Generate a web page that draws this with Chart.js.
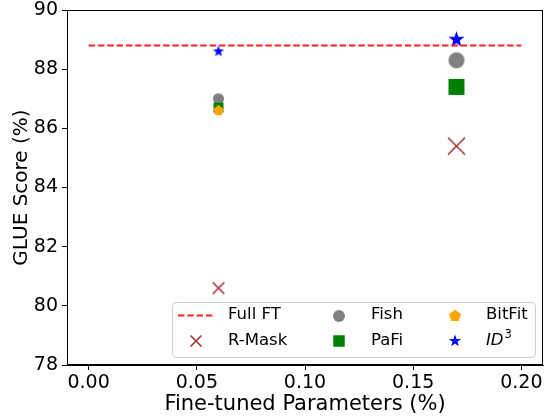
<!DOCTYPE html>
<html>
<head>
<meta charset="utf-8">
<script src="https://cdn.jsdelivr.net/npm/chart.js@4.4.0/dist/chart.umd.min.js"></script>
<style>
html, body { margin: 0; padding: 0; background: #fff; }
</style>
</head>
<body>
<canvas id="myChart" width="550" height="419"></canvas>
<script>
// tick labels
var xTicks = [0, 0.05, 0.10, 0.15, 0.20];
var yTicks = [78, 80, 82, 84, 86, 88, 90];

// series
var fullFtX = [0, 0.20];
var fullFtY = [88.8, 88.8];
var rMaskX = [0.06, 0.17];
var rMaskY = [80.6, 85.4];
var fishX = [0.06, 0.17];
var fishY = [87.0, 88.3];
var pafiX = [0.06, 0.17];
var pafiY = [86.7, 87.4];
var bitfitX = [0.06];
var bitfitY = [86.6];
var id3X = [0.06, 0.17];
var id3Y = [88.6, 89.0];

var FONT = 'DejaVu Sans';

function toPoints(xs, ys) {
	return xs.map(function(x, i) {
		return { x: x, y: ys[i] };
	});
}

// draw one marker shape centred on (x, y)
function drawMarker(ctx, kind, x, y, size, color) {
	var r = size / 2;
	ctx.save();
	ctx.fillStyle = color;
	ctx.strokeStyle = color;
	ctx.lineWidth = 1.5;
	ctx.beginPath();
	if (kind == 'circle') {
		ctx.arc(x, y, r, 0, Math.PI * 2);
		ctx.fill();
	} else if (kind == 'square') {
		ctx.rect(x - r, y - r, size, size);
		ctx.fill();
	} else if (kind == 'cross') {
		ctx.moveTo(x - r, y - r);
		ctx.lineTo(x + r, y + r);
		ctx.moveTo(x + r, y - r);
		ctx.lineTo(x - r, y + r);
		ctx.stroke();
	} else if (kind == 'pentagon') {
		for (var i = 0; i < 5; i++) {
			var a = -Math.PI / 2 + i * 2 * Math.PI / 5;
			ctx.lineTo(x + r * Math.cos(a), y + r * Math.sin(a));
		}
		ctx.closePath();
		ctx.fill();
	} else if (kind == 'star') {
		for (var j = 0; j < 10; j++) {
			var b = -Math.PI / 2 + j * Math.PI / 5;
			var rr = (j % 2 == 0) ? r : r * 0.4;
			ctx.lineTo(x + rr * Math.cos(b), y + rr * Math.sin(b));
		}
		ctx.closePath();
		ctx.fill();
	}
	ctx.restore();
}

function markerImage(kind, size, color) {
	var c = document.createElement('canvas');
	c.width = Math.ceil(size) + 4;
	c.height = Math.ceil(size) + 4;
	drawMarker(c.getContext('2d'), kind, c.width / 2, c.height / 2, size, color);
	return c;
}

function scatterSet(label, xs, ys, kind, sizes, color, order) {
	return {
		type: 'scatter',
		label: label,
		data: toPoints(xs, ys),
		pointStyle: sizes.map(function(s) { return markerImage(kind, s, color); }),
		pointRadius: 6,
		order: order
	};
}

var frame = {
	id: 'frame',
	afterDraw: function(chart) {
		var a = chart.chartArea;
		var ctx = chart.ctx;
		ctx.save();
		ctx.strokeStyle = '#000';
		ctx.lineWidth = 1;
		ctx.strokeRect(a.left + 0.5, a.top + 0.5, a.right - a.left - 1, a.bottom - a.top - 1);
		ctx.restore();
	}
};

var legendBox = {
	id: 'legendBox',
	afterDraw: function(chart) {
		var ctx = chart.ctx;
		ctx.save();
		ctx.fillStyle = 'rgba(255,255,255,0.8)';
		ctx.strokeStyle = '#cccccc';
		ctx.lineWidth = 1;
		ctx.beginPath();
		ctx.roundRect(172.5, 302.5, 363, 55, 4);
		ctx.fill();
		ctx.stroke();

		// Full FT handle
		ctx.strokeStyle = '#ff2020';
		ctx.lineWidth = 1.8;
		ctx.setLineDash([6.5, 2.8]);
		ctx.beginPath();
		ctx.moveTo(178, 315.5);
		ctx.lineTo(213, 315.5);
		ctx.stroke();
		ctx.setLineDash([]);

		drawMarker(ctx, 'cross', 196, 341, 11, '#a52a2a');
		drawMarker(ctx, 'circle', 339, 316, 12, '#808080');
		drawMarker(ctx, 'square', 339, 341, 11.5, '#008000');
		drawMarker(ctx, 'pentagon', 455, 316, 12.5, '#ffa500');
		drawMarker(ctx, 'star', 455, 341, 13, '#0000ff');

		ctx.fillStyle = '#000';
		ctx.textBaseline = 'middle';
		ctx.font = '16.5px "' + FONT + '"';
		ctx.fillText('Full FT', 228, 315);
		ctx.fillText('R-Mask', 228, 341);
		ctx.fillText('Fish', 371, 315);
		ctx.fillText('PaFi', 371, 341);
		ctx.fillText('BitFit', 486, 315);
		ctx.font = 'italic 16.5px "' + FONT + '"';
		ctx.fillText('ID', 486, 341);
		var w = ctx.measureText('ID').width;
		ctx.font = '11.5px "' + FONT + '"';
		ctx.fillText('3', 486 + w + 1, 335);
		ctx.restore();
	}
};

var ctx = document.getElementById('myChart').getContext('2d');
var myChart = new Chart(ctx, {
	type: 'scatter',
	data: {
		datasets: [
			{
				type: 'line',
				label: 'Full FT',
				data: toPoints(fullFtX, fullFtY),
				borderColor: '#ff2020',
				borderWidth: 1.8,
				borderDash: [6.5, 2.8],
				pointRadius: 0,
				fill: false,
				order: 0
			},
			scatterSet('R-Mask', rMaskX, rMaskY, 'cross', [11.5, 17], '#a52a2a', 5),
			scatterSet('Fish', fishX, fishY, 'circle', [11, 16], '#808080', 4),
			scatterSet('PaFi', pafiX, pafiY, 'square', [10, 16], '#008000', 3),
			scatterSet('BitFit', bitfitX, bitfitY, 'pentagon', [11], '#ffa500', 2),
			scatterSet('$ID^3$', id3X, id3Y, 'star', [12, 17], '#0000ff', 1)
		]
	},
	options: {
		responsive: false,
		animation: false,
		devicePixelRatio: 1,
		layout: { padding: { top: 10, right: 6, left: 0, bottom: 0 } },
		plugins: {
			legend: { display: false },
			tooltip: { enabled: false }
		},
		scales: {
			x: {
				type: 'linear',
				min: -0.01,
				max: 0.21,
				afterBuildTicks: function(s) {
					s.ticks = xTicks.map(function(v) { return { value: v }; });
				},
				afterFit: function(s) {
					s.height = 54;
					s.paddingLeft = 0;
					s.paddingRight = 0;
				},
				ticks: {
					callback: function(v) { return v.toFixed(2); },
					font: { family: FONT, size: 19 },
					color: '#000',
					padding: 2,
					maxRotation: 0,
					autoSkip: false
				},
				grid: { drawOnChartArea: false, tickLength: 5, tickColor: '#000' },
				border: { color: '#000' },
				title: {
					display: true,
					text: 'Fine-tuned Parameters (%)',
					font: { family: FONT, size: 21 },
					color: '#000',
					padding: { top: 0, bottom: 2 }
				}
			},
			y: {
				min: 78,
				max: 90,
				afterBuildTicks: function(s) {
					s.ticks = yTicks.map(function(v) { return { value: v }; });
				},
				afterFit: function(s) {
					s.width = 67;
					s.paddingTop = 0;
					s.paddingBottom = 0;
				},
				ticks: {
					callback: function(v) { return v.toFixed(0); },
					font: { family: FONT, size: 19 },
					color: '#000',
					padding: 4,
					autoSkip: false
				},
				grid: { drawOnChartArea: false, tickLength: 5, tickColor: '#000' },
				border: { color: '#000' },
				title: {
					display: true,
					text: 'GLUE Score (%)',
					font: { family: FONT, size: 20 },
					color: '#000',
					padding: { top: 10, bottom: 0 }
				}
			}
		}
	},
	plugins: [frame, legendBox]
});
</script>
</body>
</html>
